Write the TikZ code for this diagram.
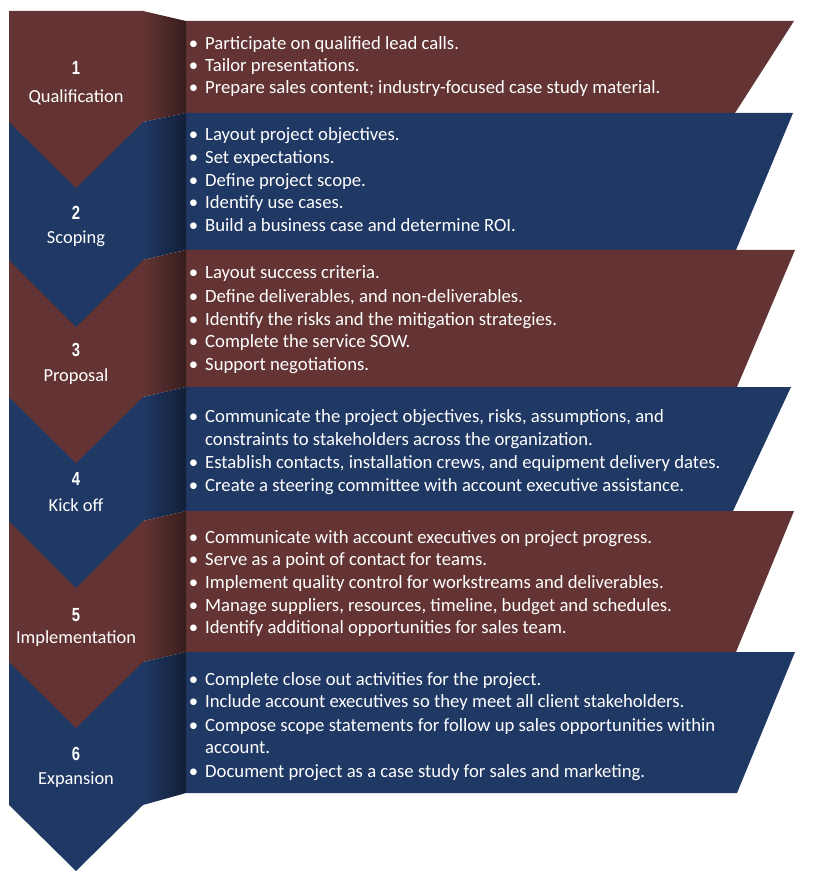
\documentclass[tikz,border=0pt]{standalone}
\usepackage{fontspec}
\usepackage{graphicx}
\setmainfont{Carlito}
\newfontfamily\libsans{Liberation Sans}
\newcommand\numtxt[1]{\scalebox{0.78}[1]{\libsans\bfseries\fontsize{19}{19}\selectfont #1}}
\definecolor{redc}{RGB}{100,52,52}
\definecolor{bluec}{RGB}{32,56,100}
\begin{document}
\begin{tikzpicture}[x=1pt,y=-1pt,
  chev/.style={fill=#1,draw=none},
  boxs/.style={fill=#1,draw=none},
  numlab/.style={text=white,inner sep=0,anchor=base},
  namelab/.style={text=white,font=\fontsize{18.4}{18.4}\selectfont,inner sep=0,anchor=base},
  btext/.style={text=white,font=\fontsize{18.7}{22}\selectfont,inner sep=0,anchor=base west}]
\useasboundingbox (0,0) rectangle (816,874);
% right boxes
\fill[boxs=redc]  (186,21)  -- (794,21)  -- (735,113) -- (186,113) -- cycle;
\fill[boxs=bluec] (186,113) -- (793,113) -- (736,250) -- (186,250) -- cycle;
\fill[boxs=redc]  (186,250) -- (795,250) -- (737,387) -- (186,387) -- cycle;
\fill[boxs=bluec] (186,387) -- (791,387) -- (733,511) -- (186,511) -- cycle;
\fill[boxs=redc]  (186,511) -- (794,511) -- (736,652) -- (186,652) -- cycle;
\fill[boxs=bluec] (186,652) -- (795,652) -- (737,793) -- (186,793) -- cycle;
% folds
\shade[left color=redc,right color=redc!55!black]   (143,11)  -- (186,21)  -- (186,113) -- (143,122) -- cycle;
\shade[left color=bluec,right color=bluec!55!black] (143,122) -- (186,113) -- (186,250) -- (143,260) -- cycle;
\shade[left color=redc,right color=redc!55!black]   (143,260) -- (186,250) -- (186,387) -- (143,397) -- cycle;
\shade[left color=bluec,right color=bluec!55!black] (143,397) -- (186,387) -- (186,511) -- (143,521) -- cycle;
\shade[left color=redc,right color=redc!55!black]   (143,521) -- (186,511) -- (186,652) -- (143,662) -- cycle;
\shade[left color=bluec,right color=bluec!55!black] (143,662) -- (186,652) -- (186,793) -- (143,805) -- cycle;
% chevrons (bottom first)
\fill[chev=bluec] (9,662) -- (143,662) -- (143,805) -- (76,871) -- (9,805) -- cycle;
\fill[chev=redc]  (9,521) -- (143,521) -- (143,662) -- (76,728) -- (9,662) -- cycle;
\fill[chev=bluec] (9,397) -- (143,397) -- (143,521) -- (76,588) -- (9,521) -- cycle;
\fill[chev=redc]  (9,260) -- (143,260) -- (143,397) -- (76,463) -- (9,397) -- cycle;
\fill[chev=bluec] (9,122) -- (143,122) -- (143,260) -- (76,327) -- (9,260) -- cycle;
\fill[chev=redc]  (9,11)  -- (143,11)  -- (143,122) -- (76,188) -- (9,122) -- cycle;
% chevron labels
\node[numlab]  (n1) at (76,75)  {\numtxt{1}};
\node[namelab] (l1) at (76,103) {Qualification};
\node[numlab]  (n2) at (76,220) {\numtxt{2}};
\node[namelab] (l2) at (76,244) {Scoping};
\node[numlab]  (n3) at (76,356) {\numtxt{3}};
\node[namelab] (l3) at (76,381) {Proposal};
\node[numlab]  (n4) at (76,485) {\numtxt{4}};
\node[namelab] (l4) at (76,511) {Kick off};
\node[numlab]  (n5) at (76,621) {\numtxt{5}};
\node[namelab] (l5) at (76,643) {Implementation};
\node[numlab]  (n6) at (76,760) {\numtxt{6}};
\node[namelab] (l6) at (76,784) {Expansion};
% bullet texts
\newcommand\bl{\llap{\textbullet\hspace{7pt}}}
\node[btext] (t1a) at (205,50) {\bl Participate on qualified lead calls.};
\node[btext] (t1b) at (205,72) {\bl Tailor presentations.};
\node[btext] (t1c) at (205,94) {\bl Prepare sales content; industry-focused case study material.};
\node[btext] (t2a) at (205,141) {\bl Layout project objectives.};
\node[btext] (t2b) at (205,164) {\bl Set expectations.};
\node[btext] (t2c) at (205,187) {\bl Define project scope.};
\node[btext] (t2d) at (205,209) {\bl Identify use cases.};
\node[btext] (t2e) at (205,232) {\bl Build a business case and determine ROI.};
\node[btext] (t3a) at (205,279) {\bl Layout success criteria.};
\node[btext] (t3b) at (205,302) {\bl Define deliverables, and non-deliverables.};
\node[btext] (t3c) at (205,325) {\bl Identify the risks and the mitigation strategies.};
\node[btext] (t3d) at (205,347) {\bl Complete the service SOW.};
\node[btext] (t3e) at (205,370) {\bl Support negotiations.};
\node[btext] (t4a) at (205,422) {\bl Communicate the project objectives, risks, assumptions, and};
\node[btext] (t4b) at (205,445) {constraints to stakeholders across the organization.};
\node[btext] (t4c) at (205,468) {\bl Establish contacts, installation crews, and equipment delivery dates.};
\node[btext] (t4d) at (205,491) {\bl Create a steering committee with account executive assistance.};
\node[btext] (t5a) at (205,543) {\bl Communicate with account executives on project progress.};
\node[btext] (t5b) at (205,565) {\bl Serve as a point of contact for teams.};
\node[btext] (t5c) at (205,588) {\bl Implement quality control for workstreams and deliverables.};
\node[btext] (t5d) at (205,611) {\bl Manage suppliers, resources, timeline, budget and schedules.};
\node[btext] (t5e) at (205,633) {\bl Identify additional opportunities for sales team.};
\node[btext] (t6a) at (205,685) {\bl Complete close out activities for the project.};
\node[btext] (t6b) at (205,707) {\bl Include account executives so they meet all client stakeholders.};
\node[btext] (t6c) at (205,731) {\bl Compose scope statements for follow up sales opportunities within};
\node[btext] (t6d) at (205,753) {account.};
\node[btext] (t6e) at (205,777) {\bl Document project as a case study for sales and marketing.};
\end{tikzpicture}
\end{document}
